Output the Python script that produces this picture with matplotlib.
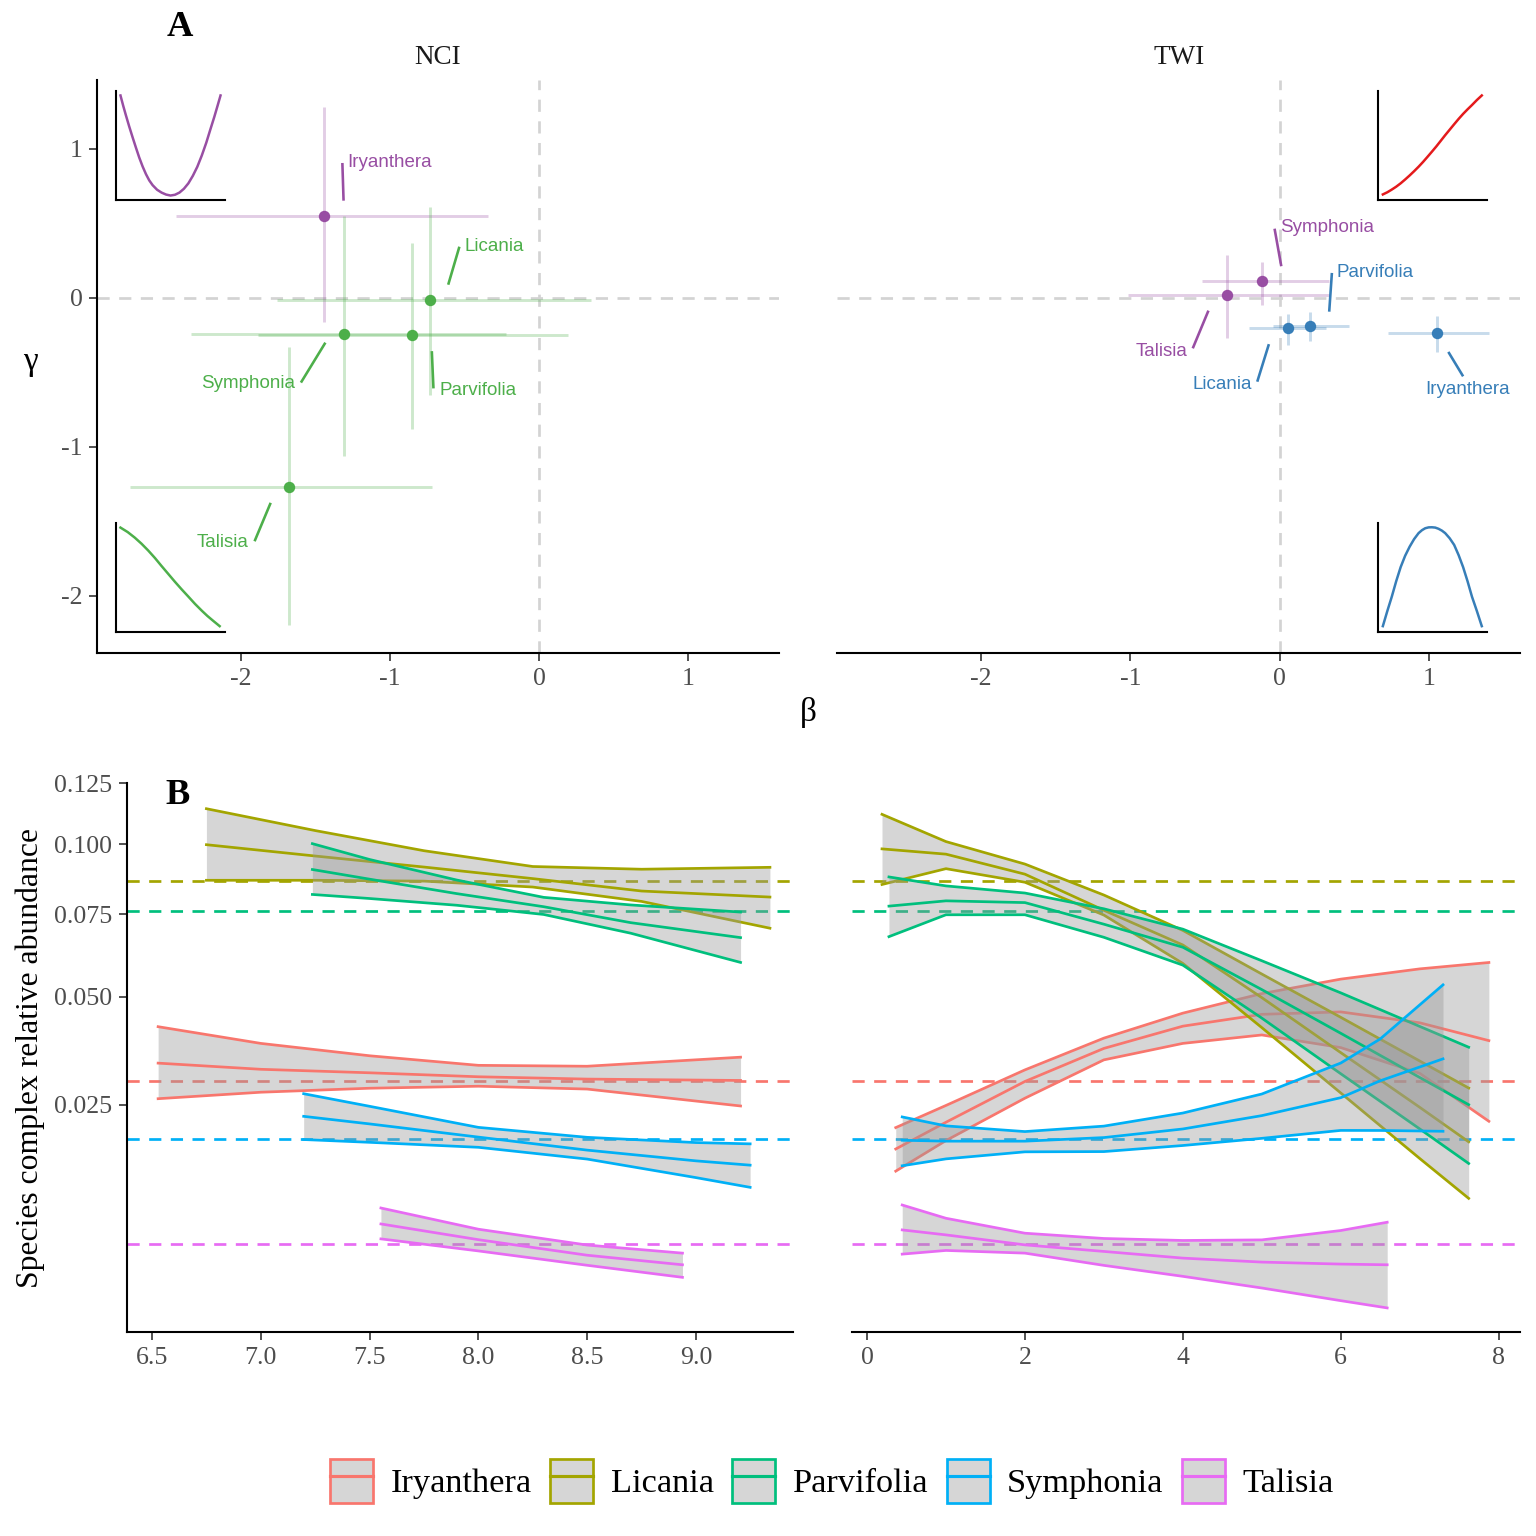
import numpy as np
import matplotlib
matplotlib.use('Agg')
import matplotlib.pyplot as plt
from matplotlib.patches import Patch
from matplotlib.lines import Line2D
from matplotlib.legend_handler import HandlerTuple

SERIF = ['Liberation Serif', 'DejaVu Serif']
SANS = ['Liberation Sans', 'DejaVu Sans']

species = ['Iryanthera', 'Licania', 'Parvifolia', 'Symphonia', 'Talisia']
hue = ['#F8766D', '#A3A500', '#00BF7D', '#00B0F6', '#E76BF3']

# ---------------- Panel A : parameter estimates ----------------
nci_beta = [-1.439, -0.731, -0.851, -1.308, -1.675]
nci_beta_lo = [-2.436, -1.758, -1.884, -2.335, -2.746]
nci_beta_hi = [-0.343, 0.352, 0.196, -0.224, -0.717]
nci_gamma = [0.549, -0.015, -0.251, -0.241, -1.271]
nci_gamma_lo = [-0.164, -0.654, -0.877, -1.063, -2.195]
nci_gamma_hi = [1.282, 0.613, 0.371, 0.549, -0.328]
nci_shape = ['U', 'decr', 'decr', 'decr', 'decr']

twi_beta = [1.052, 0.054, 0.204, -0.120, -0.351]
twi_beta_lo = [0.728, -0.204, -0.042, -0.522, -1.013]
twi_beta_hi = [1.405, 0.309, 0.464, 0.330, 0.330]
twi_gamma = [-0.234, -0.203, -0.191, 0.111, 0.021]
twi_gamma_lo = [-0.362, -0.315, -0.291, -0.048, -0.266]
twi_gamma_hi = [-0.122, -0.105, -0.097, 0.242, 0.287]
twi_shape = ['bell', 'bell', 'bell', 'U', 'U']

shape_col = {'U': '#984EA3', 'decr': '#4DAF4A', 'bell': '#377EB8', 'incr': '#E41A1C'}

# schematic response shapes (normalised inset coordinates)
u_x = [0.041, 0.066, 0.090, 0.121, 0.152, 0.183, 0.213, 0.244, 0.275, 0.305, 0.336, 0.377,
       0.418, 0.459, 0.500, 0.541, 0.582, 0.623, 0.664, 0.705, 0.746, 0.787, 0.828, 0.865,
       0.902, 0.931, 0.959]
u_y = [0.959, 0.865, 0.780, 0.675, 0.576, 0.480, 0.390, 0.308, 0.237, 0.180, 0.136, 0.094,
       0.068, 0.050, 0.041, 0.048, 0.068, 0.103, 0.153, 0.222, 0.305, 0.408, 0.525, 0.645,
       0.763, 0.862, 0.959]
decr_x = [0.041, 0.107, 0.172, 0.234, 0.295, 0.357, 0.418, 0.480, 0.541, 0.603, 0.664,
          0.725, 0.787, 0.838, 0.889, 0.951]
decr_y = [0.956, 0.915, 0.864, 0.808, 0.746, 0.677, 0.603, 0.530, 0.458, 0.388, 0.322,
          0.255, 0.193, 0.145, 0.102, 0.051]
incr_x = [0.049, 0.090, 0.130, 0.171, 0.212, 0.253, 0.294, 0.335, 0.376, 0.417, 0.457,
          0.498, 0.539, 0.580, 0.620, 0.661, 0.702, 0.743, 0.784, 0.825, 0.865, 0.910, 0.955]
incr_y = [0.051, 0.071, 0.095, 0.122, 0.153, 0.188, 0.225, 0.264, 0.305, 0.349, 0.395,
          0.443, 0.492, 0.544, 0.595, 0.645, 0.695, 0.744, 0.790, 0.832, 0.871, 0.917, 0.959]
bell_x = [0.049, 0.090, 0.131, 0.171, 0.212, 0.253, 0.294, 0.335, 0.376, 0.407, 0.437,
          0.468, 0.498, 0.529, 0.559, 0.590, 0.620, 0.661, 0.702, 0.743, 0.784, 0.825,
          0.865, 0.910, 0.955]
bell_y = [0.051, 0.190, 0.322, 0.463, 0.593, 0.697, 0.780, 0.850, 0.905, 0.932, 0.950,
          0.958, 0.959, 0.956, 0.945, 0.928, 0.905, 0.858, 0.797, 0.703, 0.593, 0.462,
          0.322, 0.190, 0.051]

# ---------------- Panel B : fitted relative abundance ----------------
mean_abund = [0.0298, 0.0863, 0.0759, 0.0189, 0.00538]

# NCI
nci_iry_x = [6.528, 7.0, 7.5, 8.0, 8.5, 9.205]
nci_iry_fit = [0.03362, 0.03226, 0.03150, 0.03065, 0.03016, 0.02987]
nci_iry_lo = [0.02616, 0.02745, 0.02826, 0.02867, 0.02809, 0.02475]
nci_iry_hi = [0.04223, 0.03816, 0.03528, 0.03313, 0.03293, 0.03496]

nci_lic_x = [6.75, 7.25, 7.75, 8.25, 8.75, 9.34]
nci_lic_fit = [0.0999, 0.0956, 0.0915, 0.0873, 0.0829, 0.0808]
nci_lic_lo = [0.0867, 0.0867, 0.0864, 0.0843, 0.0793, 0.0704]
nci_lic_hi = [0.1142, 0.1054, 0.0976, 0.0917, 0.0907, 0.0914]

nci_par_x = [7.237, 7.5, 7.9, 8.3, 8.7, 9.205]
nci_par_fit = [0.0906, 0.0871, 0.0820, 0.0775, 0.0722, 0.0674]
nci_par_lo = [0.0817, 0.0803, 0.0780, 0.0749, 0.0688, 0.0598]
nci_par_hi = [0.1003, 0.0943, 0.0868, 0.0807, 0.0781, 0.0757]

nci_sym_x = [7.197, 7.5, 8.0, 8.5, 9.0, 9.249]
nci_sym_fit = [0.02281, 0.02144, 0.01916, 0.01703, 0.01537, 0.01473]
nci_sym_lo = [0.01875, 0.01829, 0.01748, 0.01564, 0.01295, 0.01164]
nci_sym_hi = [0.02715, 0.02469, 0.02083, 0.01912, 0.01825, 0.01804]

nci_tal_x = [7.552, 8.0, 8.5, 8.938]
nci_tal_fit = [0.007336, 0.005790, 0.004442, 0.003701]
nci_tal_lo = [0.005863, 0.004796, 0.003664, 0.002831]
nci_tal_hi = [0.009090, 0.006798, 0.005303, 0.004613]

# TWI
twi_iry_x = [0.364, 1.0, 2.0, 3.0, 4.0, 5.0, 6.0, 7.0, 7.876]
twi_iry_fit = [0.01721, 0.02174, 0.02966, 0.03698, 0.04236, 0.04537, 0.04600, 0.04321, 0.03882]
twi_iry_lo = [0.01386, 0.01858, 0.02626, 0.03435, 0.03816, 0.04019, 0.03717, 0.03139, 0.02191]
twi_iry_hi = [0.02079, 0.02485, 0.03213, 0.03942, 0.04568, 0.05090, 0.05494, 0.05790, 0.05978]

twi_lic_x = [0.19, 1.0, 2.0, 3.0, 4.0, 5.0, 6.0, 7.0, 7.62]
twi_lic_fit = [0.0983, 0.0963, 0.0889, 0.0763, 0.0651, 0.0498, 0.0360, 0.0245, 0.01837]
twi_lic_lo = [0.0852, 0.0909, 0.0860, 0.0747, 0.0595, 0.0420, 0.0273, 0.01573, 0.01024]
twi_lic_hi = [0.1119, 0.1011, 0.0926, 0.0815, 0.0697, 0.0564, 0.0446, 0.0341, 0.0283]

twi_par_x = [0.278, 1.0, 2.0, 3.0, 4.0, 5.0, 6.0, 7.0, 7.62]
twi_par_fit = [0.0777, 0.0795, 0.0789, 0.0717, 0.0644, 0.0520, 0.0406, 0.0305, 0.0250]
twi_par_lo = [0.0677, 0.0748, 0.0748, 0.0675, 0.0590, 0.0444, 0.0313, 0.02056, 0.01498]
twi_par_hi = [0.0879, 0.0847, 0.0822, 0.0768, 0.0701, 0.0603, 0.0511, 0.0423, 0.03726]

twi_sym_x = [0.446, 1.0, 2.0, 3.0, 4.0, 5.0, 6.0, 6.5, 7.295]
twi_sym_fit = [0.01863, 0.01848, 0.01848, 0.01908, 0.02055, 0.02294, 0.02636, 0.02980, 0.03458]
twi_sym_lo = [0.01464, 0.01567, 0.01676, 0.01680, 0.01777, 0.01895, 0.02030, 0.02029, 0.02015]
twi_sym_hi = [0.02270, 0.02109, 0.02010, 0.02105, 0.02342, 0.02709, 0.03364, 0.03923, 0.05333]

twi_tal_x = [0.446, 1.0, 2.0, 3.0, 4.0, 5.0, 6.0, 6.588]
twi_tal_fit = [0.006728, 0.006241, 0.005320, 0.004754, 0.004211, 0.003903, 0.003753, 0.003701]
twi_tal_lo = [0.004531, 0.004837, 0.004613, 0.003657, 0.002896, 0.002184, 0.001524, 0.001199]
twi_tal_hi = [0.009440, 0.007939, 0.006404, 0.005901, 0.005717, 0.005771, 0.006668, 0.007514]

nci_curves = [(nci_iry_x, nci_iry_fit, nci_iry_lo, nci_iry_hi),
              (nci_lic_x, nci_lic_fit, nci_lic_lo, nci_lic_hi),
              (nci_par_x, nci_par_fit, nci_par_lo, nci_par_hi),
              (nci_sym_x, nci_sym_fit, nci_sym_lo, nci_sym_hi),
              (nci_tal_x, nci_tal_fit, nci_tal_lo, nci_tal_hi)]
twi_curves = [(twi_iry_x, twi_iry_fit, twi_iry_lo, twi_iry_hi),
              (twi_lic_x, twi_lic_fit, twi_lic_lo, twi_lic_hi),
              (twi_par_x, twi_par_fit, twi_par_lo, twi_par_hi),
              (twi_sym_x, twi_sym_fit, twi_sym_lo, twi_sym_hi),
              (twi_tal_x, twi_tal_fit, twi_tal_lo, twi_tal_hi)]

# label layout for panel A (text anchor, segment start/end) in data units
nci_lab = {
    'Iryanthera': ((-1.283, 0.906, 'left'), (-1.319, 0.906, -1.311, 0.653)),
    'Licania': ((-0.501, 0.344, 'left'), (-0.534, 0.344, -0.609, 0.089)),
    'Parvifolia': ((-0.668, -0.624, 'left'), (-0.708, -0.607, -0.719, -0.357)),
    'Symphonia': ((-1.639, -0.575, 'right'), (-1.597, -0.568, -1.433, -0.300)),
    'Talisia': ((-1.947, -1.644, 'right'), (-1.908, -1.633, -1.800, -1.375)),
}
twi_lab = {
    'Iryanthera': ((0.975, -0.612, 'left'), (1.229, -0.526, 1.130, -0.362)),
    'Licania': ((-0.188, -0.580, 'right'), (-0.150, -0.562, -0.072, -0.310)),
    'Parvifolia': ((0.383, 0.174, 'left'), (0.350, 0.168, 0.332, -0.092)),
    'Symphonia': ((0.0, 0.472, 'left'), (-0.034, 0.465, 0.011, 0.213)),
    'Talisia': ((-0.619, -0.357, 'right'), (-0.582, -0.338, -0.477, -0.085)),
}

W = 1536.0
fig = plt.figure(figsize=(10.24, 10.24), dpi=150)


def px_axes(x0, y0, x1, y1):
    return fig.add_axes([x0 / W, 1 - y1 / W, (x1 - x0) / W, (y1 - y0) / W])


TICK_COL = '#4D4D4D'


def style_axes(ax, left=True):
    for s in ['top', 'right']:
        ax.spines[s].set_visible(False)
    ax.spines['bottom'].set_linewidth(1.0)
    ax.spines['left'].set_linewidth(1.0)
    if not left:
        ax.spines['left'].set_visible(False)
        ax.tick_params(axis='y', left=False, labelleft=False)
    ax.tick_params(axis='both', colors='#333333', labelcolor=TICK_COL,
                   labelsize=12.4, length=4, width=0.8, pad=3)
    for lab in ax.get_xticklabels() + ax.get_yticklabels():
        lab.set_fontfamily(SERIF)


# ---------- Panel A ----------
axA1 = px_axes(97, 80, 779, 653)
axA2 = px_axes(837, 80, 1520, 653)
panelsA = [
    (axA1, nci_beta, nci_beta_lo, nci_beta_hi, nci_gamma, nci_gamma_lo, nci_gamma_hi, nci_shape, nci_lab),
    (axA2, twi_beta, twi_beta_lo, twi_beta_hi, twi_gamma, twi_gamma_lo, twi_gamma_hi, twi_shape, twi_lab),
]
for i, (ax, b, blo, bhi, g, glo, ghi, shp, lab) in enumerate(panelsA):
    ax.axhline(0, color='#D3D3D3', lw=1.3, ls=(0, (4.5, 3.5)), zorder=1)
    ax.axvline(0, color='#D3D3D3', lw=1.3, ls=(0, (4.5, 3.5)), zorder=1)
    for k, sp in enumerate(species):
        c = shape_col[shp[k]]
        ax.hlines(g[k], blo[k], bhi[k], color=c, alpha=0.28, lw=1.4, zorder=2)
        ax.vlines(b[k], glo[k], ghi[k], color=c, alpha=0.28, lw=1.4, zorder=2)
        ax.scatter([b[k]], [g[k]], s=30, color=c, zorder=3, linewidths=0)
        (tx, ty, ha), (sx0, sy0, sx1, sy1) = lab[sp]
        ax.plot([sx0, sx1], [sy0, sy1], color=c, lw=1.25, zorder=3,
                solid_capstyle='butt')
        ax.text(tx, ty, sp, color=c, fontsize=9, ha=ha, va='center',
                family=SANS, zorder=4)
    ax.set_xlim(-2.965, 1.61)
    ax.set_ylim(-2.383, 1.463)
    ax.set_xticks([-2, -1, 0, 1])
    ax.set_xticklabels(['-2', '-1', '0', '1'])
    ax.set_yticks([-2, -1, 0, 1])
    ax.set_yticklabels(['-2', '-1', '0', '1'])
    style_axes(ax, left=(i == 0))

# insets
insets = [
    ((116, 91, 225, 200), u_x, u_y, shape_col['U']),
    ((116, 522.8, 225, 631.7), decr_x, decr_y, shape_col['decr']),
    ((1377.5, 91, 1486.7, 200), incr_x, incr_y, shape_col['incr']),
    ((1377.5, 522.8, 1486.7, 631.7), bell_x, bell_y, shape_col['bell']),
]
for (x0, y0, x1, y1), xs, ys, c in insets:
    ia = px_axes(x0, y0, x1, y1)
    ia.set_facecolor('none')
    ia.plot(xs, ys, color=c, lw=1.2, solid_joinstyle='round')
    ia.set_xlim(0, 1)
    ia.set_ylim(0, 1)
    ia.set_xticks([])
    ia.set_yticks([])
    for s in ['top', 'right']:
        ia.spines[s].set_visible(False)
    ia.spines['left'].set_linewidth(1.0)
    ia.spines['bottom'].set_linewidth(1.0)

# ---------- Panel B ----------
axB1 = px_axes(127, 783, 793, 1332)
axB2 = px_axes(852, 783, 1520, 1332)
fwd = lambda v: np.sqrt(np.clip(v, 0, None))
inv = lambda v: np.square(v)
LW = 1.3
for i, (ax, curves) in enumerate([(axB1, nci_curves), (axB2, twi_curves)]):
    ax.set_yscale('function', functions=(fwd, inv))
    for k, m in enumerate(mean_abund):
        ax.axhline(m, color=hue[k], lw=LW, ls=(0, (4.5, 3.5)), zorder=1)
    z = 2
    for k, (xs, fit, lo, hi) in enumerate(curves):
        ax.fill_between(xs, lo, hi, color='#999999', alpha=0.4, lw=0, zorder=z)
        ax.plot(xs, hi, color=hue[k], lw=LW, zorder=z + 0.1, solid_joinstyle='round')
        ax.plot(xs, lo, color=hue[k], lw=LW, zorder=z + 0.1, solid_joinstyle='round')
        ax.plot(xs, fit, color=hue[k], lw=LW, zorder=z + 0.2, solid_joinstyle='round')
        z += 1
    ax.set_ylim(0.0004, 0.125)
    ax.set_yticks([0.025, 0.05, 0.075, 0.1, 0.125])
    ax.set_yticklabels(['0.025', '0.050', '0.075', '0.100', '0.125'])
    ax.minorticks_off()
    if i == 0:
        ax.set_xlim(6.385, 9.446)
        ax.set_xticks([6.5, 7.0, 7.5, 8.0, 8.5, 9.0])
        ax.set_xticklabels(['6.5', '7.0', '7.5', '8.0', '8.5', '9.0'])
    else:
        ax.set_xlim(-0.19, 8.27)
        ax.set_xticks([0, 2, 4, 6, 8])
        ax.set_xticklabels(['0', '2', '4', '6', '8'])
    style_axes(ax, left=(i == 0))

# ---------- texts ----------
fig.text(180 / W, 1 - 28 / W, 'A', fontsize=17.5, fontweight='bold', family=SERIF,
         ha='center', va='center')
fig.text(178 / W, 1 - 795 / W, 'B', fontsize=17.5, fontweight='bold', family=SERIF,
         ha='center', va='center')
fig.text(438 / W, 1 - 57 / W, 'NCI', fontsize=13, family=SERIF, ha='center', va='center',
         color='#1A1A1A')
fig.text(1179 / W, 1 - 57 / W, 'TWI', fontsize=13, family=SERIF, ha='center', va='center',
         color='#1A1A1A')
fig.text(30 / W, 1 - 362 / W, 'γ', fontsize=16, family=SERIF, ha='center', va='center')
fig.text(808 / W, 1 - 713 / W, 'β', fontsize=16, family=SERIF, ha='center', va='center')
fig.text(30 / W, 1 - 1058 / W, 'Species complex relative abundance', fontsize=15.2,
         family=SERIF, ha='center', va='center', rotation=90)

# legend
handles = [(Patch(facecolor='#D6D6D6', edgecolor=c, lw=1.3),
            Line2D([], [], color=c, lw=1.5)) for c in hue]
leg = fig.legend(handles, species, loc='center', bbox_to_anchor=(832 / W, 1 - 1481 / W),
                 ncol=5, frameon=False,
                 handler_map={tuple: HandlerTuple(ndivide=1, pad=0)},
                 handlelength=1.25, handleheight=1.6, handletextpad=0.5, columnspacing=0.55,
                 prop={'family': SERIF, 'size': 16.5})

fig.savefig('out.png', dpi=150)
